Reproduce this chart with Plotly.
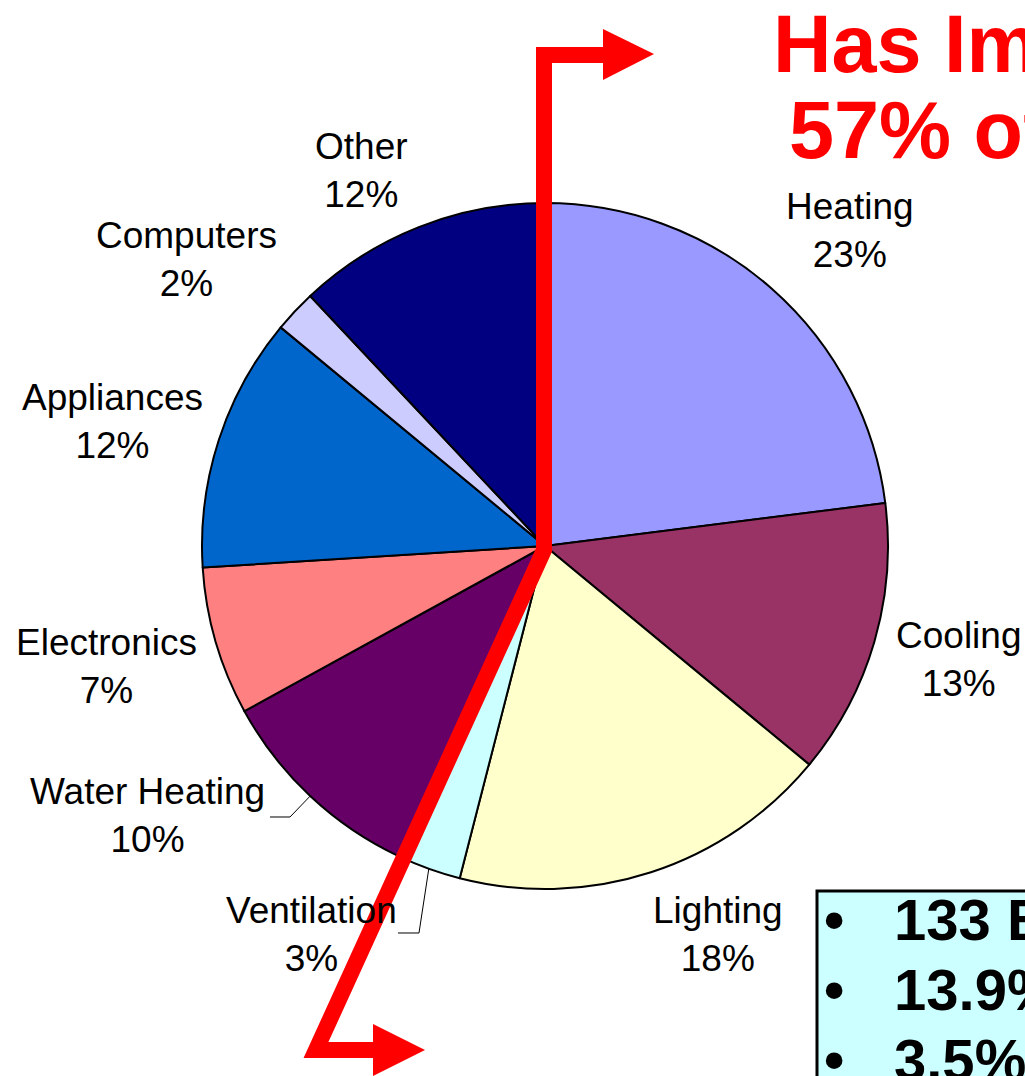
import math

import plotly.graph_objects as go

W, H = 1025, 1076

# slice data (clockwise from 12 o'clock)
labels = ["Heating", "Cooling", "Lighting", "Ventilation", "Water Heating",
          "Electronics", "Appliances", "Computers", "Other"]
shares = [23, 13, 18, 3, 10, 7, 12, 2, 12]
colors = ["#9999FF", "#993366", "#FFFFCC", "#CCFFFF", "#660066",
          "#FF8080", "#0066CC", "#CCCCFF", "#000080"]

title_lines = ["Has Impact on", "57% of Energy Use"]
box_lines = ["133 Billion kWh", "13.9% of Total", "3.5% Growth"]

# label placement: radial factor and angle nudge (degrees) per slice
label_k = [1.28, 1.25, 1.24, 1.32, 1.40, 1.325, 1.312, 1.338, 1.219]
label_dang = [2.6, -0.8, -6, 11.2, 12.6, 0.8, -2, -4.5, -4.4]

FONT = "Liberation Sans, Arial, sans-serif"

cx, cy, r = 545, 546, 343  # pie centre / radius in pixels


def px(x, y):
    return x / W, 1 - y / H


def path(points):
    return "M " + " L ".join(f"{x / W:.5f},{1 - y / H:.5f}" for x, y in points)


fig = go.Figure(go.Pie(
    labels=labels,
    values=shares,
    sort=False,
    direction="clockwise",
    rotation=0,
    textinfo="none",
    hoverinfo="label+percent",
    marker=dict(colors=colors, line=dict(color="black", width=2)),
    domain=dict(x=[(cx - r) / W, (cx + r) / W], y=[1 - (cy + r) / H, 1 - (cy - r) / H]),
    showlegend=False,
))

total = sum(shares)
annotations = []
shapes = []
cum = 0
mids = []
for lab, v, k, da in zip(labels, shares, label_k, label_dang):
    mid = (cum + v / 2) / total * 360
    mids.append(mid)
    cum += v
    a = math.radians(mid + da)
    lx = cx + k * r * math.sin(a)
    ly = cy - k * r * math.cos(a)
    x, y = px(lx, ly)
    annotations.append(dict(
        x=x, y=y, xref="paper", yref="paper", xanchor="center", yanchor="middle",
        text=f"{lab}<br>{round(v / total * 100)}%", showarrow=False,
        font=dict(family=FONT, size=37, color="black"), align="center",
    ))

# leader lines for the two small slices on the lower left
for idx, (ex, ey, hx) in {3: (419, 933, 398), 4: (290, 817, 270)}.items():
    a = math.radians(mids[idx])
    sx = cx + r * math.sin(a)
    sy = cy - r * math.cos(a)
    shapes.append(dict(type="path", xref="paper", yref="paper",
                       path=path([(sx, sy), (ex, ey), (hx, ey)]),
                       line=dict(color="black", width=1)))

# red bent arrow
red = "#FF0000"
shapes.append(dict(type="path", xref="paper", yref="paper",
                   path=path([(375, 1050), (316, 1050), (544, 550), (544, 55), (606, 55)]),
                   line=dict(color=red, width=16)))
shapes.append(dict(type="path", xref="paper", yref="paper",
                   path=path([(603, 29), (654, 54), (603, 80)]) + " Z",
                   fillcolor=red, line=dict(color=red, width=0)))
shapes.append(dict(type="path", xref="paper", yref="paper",
                   path=path([(373, 1024), (425, 1050), (373, 1076)]) + " Z",
                   fillcolor=red, line=dict(color=red, width=0)))

# info box
x0, y0 = px(817, 891)
x1, y1 = px(1040, 1090)
shapes.append(dict(type="rect", xref="paper", yref="paper", x0=x0, y0=y1, x1=x1, y1=y0,
                   fillcolor="#CCFFFF", line=dict(color="black", width=3), layer="above"))

for i, t in enumerate(box_lines):
    yc = 919 + i * 70
    bx, by = px(834, yc)
    annotations.append(dict(x=bx, y=by, xref="paper", yref="paper", xanchor="center",
                            yanchor="middle", text="<b>•</b>", showarrow=False,
                            font=dict(family=FONT, size=58, color="black")))
    tx, ty = px(892, yc)
    annotations.append(dict(x=tx, y=ty, xref="paper", yref="paper", xanchor="left",
                            yanchor="middle", text=f"<b>{t}</b>", showarrow=False,
                            font=dict(family=FONT, size=58, color="black")))

# red headline (runs off the right edge)
for i, (t, x0t, yc) in enumerate(zip(title_lines, [771, 787], [44, 130])):
    tx, ty = px(x0t, yc)
    annotations.append(dict(x=tx, y=ty, xref="paper", yref="paper", xanchor="left",
                            yanchor="middle", text=f"<b>{t}</b>", showarrow=False,
                            font=dict(family=FONT, size=81, color=red)))

fig.update_layout(
    width=W, height=H,
    margin=dict(l=0, r=0, t=0, b=0),
    paper_bgcolor="white", plot_bgcolor="white",
    shapes=shapes, annotations=annotations,
)

fig.write_html("out.html", config={"displayModeBar": False},
               post_script="document.body.style.margin='0';document.body.style.overflow='hidden';")
